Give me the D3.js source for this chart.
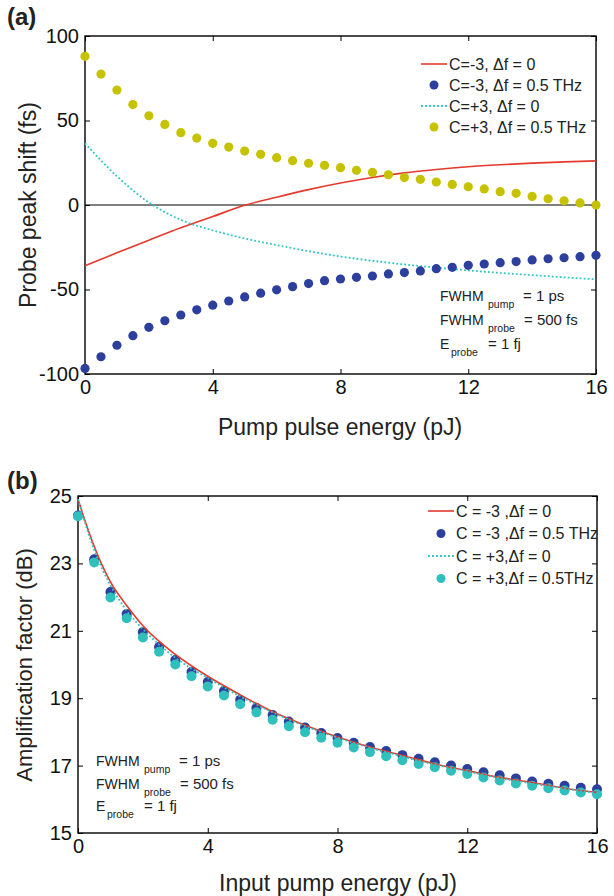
<!DOCTYPE html>
<html>
<head>
<meta charset="utf-8">
<script src="https://cdn.jsdelivr.net/npm/d3@7"></script>
<style>
  body { margin: 0; background: #fff; }
  svg { font-family: "Liberation Sans", Arial, sans-serif; }
</style>
</head>
<body>
<div id="chart"></div>
<script>
// ---- data ----
const xDots = [0, 0.5, 1, 1.5, 2, 2.5, 3, 3.5, 4, 4.5, 5, 5.5, 6, 6.5, 7, 7.5, 8,
               8.5, 9, 9.5, 10, 10.5, 11, 11.5, 12, 12.5, 13, 13.5, 14, 14.5, 15, 15.5, 16]
const xLine = [0, 1, 2, 3, 4, 5, 6, 7, 8, 9, 10, 11, 12, 13, 14, 15, 16]
const xLineB = [0, 0.5, 1, 1.5, 2, 3, 4, 5, 6, 7, 8, 9, 10, 11, 12, 13, 14, 15, 16]

// panel (a): probe peak shift (fs)
const shiftRedLine = [-36, -28.3, -20.8, -13.5, -6.8, -0.2, 4.6, 9.1, 13, 16.3, 19, 21, 22.6, 23.8, 24.8, 25.5, 26.1]
const shiftCyanLine = [36.5, 17, 1.5, -8.8, -15, -19.8, -23.7, -27.3, -30.5, -33, -35.2, -37, -38.7, -40.2, -41.5, -42.8, -44]
const shiftBlueDots = [-96.7, -89.8, -83, -77.3, -72.4, -68.5, -65.1, -62, -59.3, -56.8, -54.4, -52.2, -50.2,
                       -48.3, -46.5, -44.8, -43.8, -42.8, -42, -40.8, -40, -39, -37.7, -36.9, -35.7, -34.9,
                       -34.1, -33.5, -32.5, -31.8, -31.2, -30.6, -29.8]
const shiftYellowDots = [88, 77.5, 68, 59.4, 52.8, 47.7, 42.8, 39.6, 36.5, 34.3, 31.9, 30, 28, 26.2, 24.7,
                         23.5, 22.1, 20.5, 19.3, 17.9, 16.2, 15.2, 13.6, 12.2, 10.8, 9.5, 7.9, 6.9, 5.1,
                         3.7, 2.5, 1.2, 0]

// panel (b): amplification factor (dB)
const ampRedLine = [24.9, 23.5, 22.45, 21.75, 21.15, 20.3, 19.65, 19.1, 18.6, 18.2, 17.85, 17.55, 17.3,
                    17.05, 16.85, 16.65, 16.5, 16.33, 16.2]
const ampCyanLine = [24.9, 23.4, 22.35, 21.6, 21.05, 20.2, 19.6, 19.05, 18.58, 18.17, 17.83, 17.53, 17.27,
                     17.03, 16.83, 16.63, 16.47, 16.32, 16.18]
const ampBlueDots = [24.42, 23.12, 22.15, 21.5, 20.96, 20.52, 20.13, 19.78, 19.48, 19.21, 18.95, 18.71,
                     18.5, 18.31, 18.13, 17.97, 17.82, 17.68, 17.55, 17.43, 17.31, 17.2, 17.1, 17.0, 16.9,
                     16.8, 16.71, 16.62, 16.53, 16.46, 16.4, 16.34, 16.3]
const ampCyanDots = [24.4, 23.03, 21.99, 21.37, 20.8, 20.38, 20.0, 19.65, 19.35, 19.08, 18.82, 18.58, 18.36,
                     18.17, 17.99, 17.83, 17.68, 17.54, 17.4, 17.28, 17.16, 17.05, 16.95, 16.85, 16.75,
                     16.65, 16.56, 16.47, 16.4, 16.33, 16.26, 16.2, 16.15]

const xTicks = [0, 4, 8, 12, 16]
const yTicksA = [-100, -50, 0, 50, 100]
const yTicksB = [15, 17, 19, 21, 23, 25]

const legendA = ["C=-3, \u0394f = 0", "C=-3, \u0394f = 0.5 THz", "C=+3, \u0394f = 0", "C=+3, \u0394f = 0.5 THz"]
const legendB = ["C = -3 ,\u0394f = 0", "C = -3 ,\u0394f = 0.5 THz", "C = +3,\u0394f = 0", "C = +3,\u0394f = 0.5THz"]

const colors = {
    red: "#e4392b",
    blue: "#2c3f9c",
    cyanLine: "#2ec3c3",
    yellow: "#c6c200",
    cyanDot: "#2fbfbc",
}

const svg = d3.select("#chart")
    .append("svg")
    .attr("width", 614)
    .attr("height", 896)

// plain hyphen instead of the unicode minus, as in the figure
const fmt = d => String(d)

function drawPanel(opts) {
    const { left, right, top, bottom } = opts
    const xScale = d3.scaleLinear().domain([0, 16]).range([left, right])
    const yScale = d3.scaleLinear().domain(opts.yDomain).range([bottom, top])
    const g = svg.append("g")

    // axes with inward ticks
    const xAxis = g.append("g")
        .attr("transform", `translate(0,${bottom})`)
        .call(d3.axisBottom(xScale).tickValues(xTicks).tickFormat(fmt)
            .tickSizeInner(-5).tickSizeOuter(0).tickPadding(6))
    const yAxis = g.append("g")
        .attr("transform", `translate(${left},0)`)
        .call(d3.axisLeft(yScale).tickValues(opts.yTicks).tickFormat(fmt)
            .tickSizeInner(-5).tickSizeOuter(0).tickPadding(6))
    g.append("g")
        .attr("transform", `translate(0,${top})`)
        .call(d3.axisTop(xScale).tickValues(xTicks).tickSizeInner(-5).tickSizeOuter(0).tickFormat(""))
    g.append("g")
        .attr("transform", `translate(${right},0)`)
        .call(d3.axisRight(yScale).tickValues(opts.yTicks).tickSizeInner(-5).tickSizeOuter(0).tickFormat(""))
    g.selectAll(".domain").remove()
    g.selectAll(".tick line").attr("stroke", "#000")
    ;[xAxis, yAxis].forEach(a => a.selectAll("text")
        .attr("fill", "#111")
        .style("font-size", "20px")
        .style("font-family", "'Liberation Sans', Arial, sans-serif"))

    g.append("rect")
        .attr("x", left).attr("y", top)
        .attr("width", right - left).attr("height", bottom - top)
        .attr("fill", "none").attr("stroke", "#000").attr("stroke-width", 1.4)

    return { g, xScale, yScale }
}

function drawLine(p, xs, ys, color, dashed) {
    const line = d3.line()
        .x((d, i) => p.xScale(xs[i]))
        .y(d => p.yScale(d))
        .curve(d3.curveMonotoneX)
    p.g.append("path")
        .datum(ys)
        .attr("d", line)
        .attr("fill", "none")
        .attr("stroke", color)
        .attr("stroke-width", dashed ? 1.8 : 1.6)
        .attr("stroke-dasharray", dashed ? "1.8,2.2" : null)
}

function drawDots(p, ys, color, r) {
    p.g.append("g")
        .selectAll("circle")
        .data(ys)
        .join("circle")
        .attr("cx", (d, i) => p.xScale(xDots[i]))
        .attr("cy", d => p.yScale(d))
        .attr("r", r)
        .attr("fill", color)
}

function drawLegend(p, labels, items, x0, y0, dy, fontSize) {
    const lg = p.g.append("g")
    items.forEach((it, i) => {
        const y = y0 + i * dy
        if (it.type === "line") {
            lg.append("line")
                .attr("x1", x0).attr("x2", x0 + 26)
                .attr("y1", y).attr("y2", y)
                .attr("stroke", it.color).attr("stroke-width", it.dashed ? 1.8 : 1.6)
                .attr("stroke-dasharray", it.dashed ? "1.8,2.2" : null)
        } else {
            lg.append("circle")
                .attr("cx", x0 + 13).attr("cy", y)
                .attr("r", 4.5).attr("fill", it.color)
        }
        lg.append("text")
            .attr("x", x0 + 28).attr("y", y)
            .attr("dy", "0.35em")
            .attr("fill", "#222")
            .style("font-size", fontSize + "px")
            .text(labels[i])
    })
}

function drawNote(p, x, y, dy) {
    const note = p.g.append("g").attr("fill", "#222")
    const rows = [
        { main: "FWHM", sub: "pump", subX: 48, rest: "= 1 ps", restX: 83 },
        { main: "FWHM", sub: "probe", subX: 48, rest: "= 500 fs", restX: 84 },
        { main: "E", sub: "probe", subX: 11, rest: "= 1 fj", restX: 48 },
    ]
    rows.forEach((r, i) => {
        const yy = y + i * dy
        note.append("text").attr("x", x).attr("y", yy).style("font-size", "14px").text(r.main)
        note.append("text").attr("x", x + r.subX).attr("y", yy + 7).style("font-size", "10.5px").text(r.sub)
        note.append("text").attr("x", x + r.restX).attr("y", yy).style("font-size", "15px").text(r.rest)
    })
}

// ---- panel (a) ----
const pa = drawPanel({ left: 85, right: 596, top: 36, bottom: 374, yDomain: [-100, 100], yTicks: yTicksA })

pa.g.append("line")
    .attr("x1", pa.xScale(0)).attr("x2", pa.xScale(16))
    .attr("y1", pa.yScale(0)).attr("y2", pa.yScale(0))
    .attr("stroke", "#000").attr("stroke-width", 1)

drawLine(pa, xLine, shiftRedLine, colors.red, false)
drawLine(pa, xLine, shiftCyanLine, colors.cyanLine, true)
drawDots(pa, shiftBlueDots, colors.blue, 4.6)
drawDots(pa, shiftYellowDots, colors.yellow, 4.6)

drawLegend(pa, legendA, [
    { type: "line", color: colors.red },
    { type: "dot", color: colors.blue },
    { type: "line", color: colors.cyanLine, dashed: true },
    { type: "dot", color: colors.yellow },
], 421, 64, 21, 16)

drawNote(pa, 440, 301, 24)

svg.append("text").attr("x", 7).attr("y", 25)
    .style("font-size", "24px").style("font-weight", "bold").attr("fill", "#222").text("(a)")
svg.append("text").attr("x", 340).attr("y", 435).attr("text-anchor", "middle")
    .style("font-size", "23px").attr("fill", "#222").text("Pump pulse energy (pJ)")
svg.append("text")
    .attr("transform", `translate(36,205) rotate(-90)`)
    .attr("text-anchor", "middle")
    .style("font-size", "23px").attr("fill", "#222").text("Probe peak shift (fs)")

// ---- panel (b) ----
const pb = drawPanel({ left: 78, right: 597, top: 496, bottom: 833, yDomain: [15, 25], yTicks: yTicksB })

drawDots(pb, ampBlueDots, colors.blue, 5)
drawDots(pb, ampCyanDots, colors.cyanDot, 5)
drawLine(pb, xLineB, ampRedLine, colors.red, false)
drawLine(pb, xLineB, ampCyanLine, colors.cyanLine, true)

drawLegend(pb, legendB, [
    { type: "line", color: colors.red },
    { type: "dot", color: colors.blue },
    { type: "line", color: colors.cyanLine, dashed: true },
    { type: "dot", color: colors.cyanDot },
], 428, 511, 22.5, 16)

drawNote(pb, 96, 766, 22.5)

svg.append("text").attr("x", 7).attr("y", 489)
    .style("font-size", "24px").style("font-weight", "bold").attr("fill", "#222").text("(b)")
svg.append("text").attr("x", 338).attr("y", 891).attr("text-anchor", "middle")
    .style("font-size", "23px").attr("fill", "#222").text("Input pump energy (pJ)")
svg.append("text")
    .attr("transform", `translate(32,665) rotate(-90)`)
    .attr("text-anchor", "middle")
    .style("font-size", "22px").attr("fill", "#222").text("Amplification factor (dB)")
</script>
</body>
</html>
